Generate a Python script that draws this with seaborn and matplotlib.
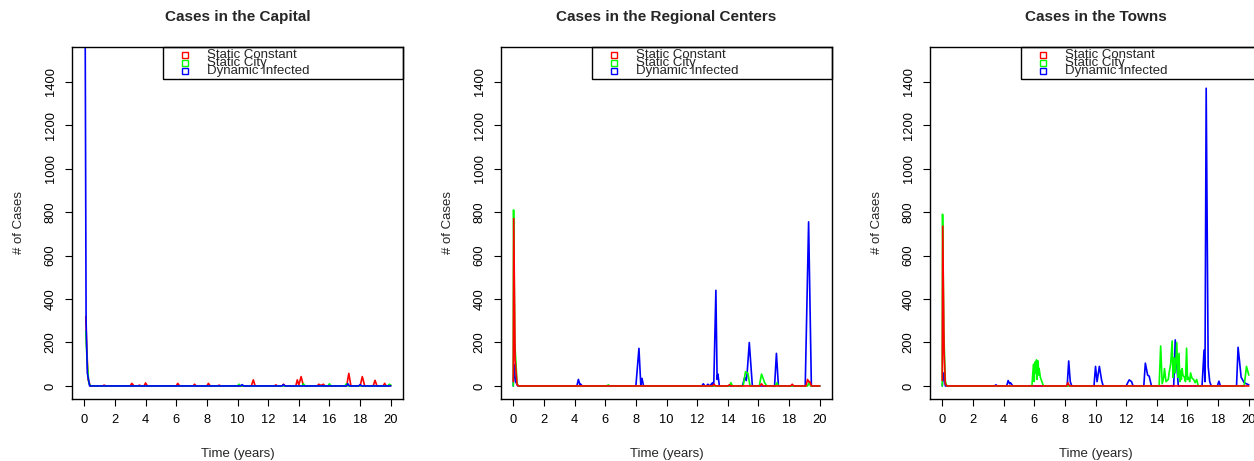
import matplotlib
matplotlib.use("Agg")
import matplotlib.pyplot as plt
import pandas as pd
import seaborn as sns
from matplotlib.patches import Rectangle

# Capital
cap_red_t = [0.1, 0.15, 0.25, 0.4, 1.2, 1.3, 1.4, 3.0, 3.1, 3.25, 3.5, 3.6, 3.7, 3.9, 4.0, 4.12,
             6.0, 6.1, 6.22, 7.1, 7.2, 7.3, 8.0, 8.1, 8.22, 8.7, 8.8, 8.9, 10.9, 11.03, 11.15,
             12.4, 12.5, 12.6, 12.9, 13.0, 13.1, 13.8, 13.9, 14.0, 14.15, 14.3, 15.2, 15.3, 15.45, 15.6, 15.7,
             17.12, 17.26, 17.4, 18.0, 18.14, 18.3, 18.85, 18.97, 19.1, 19.5, 19.6, 19.7, 20.0]
cap_red_v = [320, 200, 30, 0, 0, 4, 0, 0, 12, 0, 0, 4, 0, 0, 14, 0,
             0, 12, 0, 0, 8, 0, 0, 12, 0, 0, 4, 0, 0, 28, 0,
             0, 5, 0, 0, 8, 0, 0, 28, 5, 43, 0, 0, 8, 2, 8, 0,
             0, 58, 0, 0, 43, 0, 0, 26, 0, 0, 12, 0, 2]
cap_green_t = [0.1, 0.18, 0.3, 0.45, 10.0, 10.1, 10.2, 14.2, 14.3, 14.4, 15.9, 16.0, 16.1,
               17.0, 17.1, 17.2, 19.8, 19.9, 20.0]
cap_green_v = [250, 120, 10, 0, 0, 8, 0, 0, 10, 0, 0, 10, 0,
               0, 10, 0, 0, 8, 4]
cap_blue_t = [0.0, 0.12, 0.2, 0.35, 10.2, 10.3, 10.4, 12.9, 13.0, 13.1, 17.1, 17.2, 17.3,
              17.9, 18.0, 18.1, 20.0]
cap_blue_v = [3000, 300, 60, 0, 0, 6, 0, 0, 6, 0, 0, 10, 0,
              0, 6, 0, 0]

# Regional centers
reg_red_t = [0.0, 0.03, 0.12, 0.25, 0.35, 13.0, 13.1, 13.2, 14.0, 14.1, 14.2, 16.1, 16.2, 16.3,
             18.1, 18.2, 18.3, 19.1, 19.2, 19.3, 19.35, 19.45, 20.0]
reg_red_v = [20, 770, 120, 5, 0, 0, 8, 0, 0, 5, 0, 0, 10, 0,
             0, 8, 0, 0, 30, 18, 20, 0, 0]
reg_green_t = [0.0, 0.02, 0.1, 0.25, 0.35, 6.1, 6.2, 6.3, 14.1, 14.2, 14.3, 15.0, 15.15, 15.3, 15.45,
               16.05, 16.2, 16.4, 16.55, 17.1, 17.2, 17.3, 19.2, 19.3, 19.4, 20.0]
reg_green_v = [0, 810, 200, 10, 0, 0, 5, 0, 0, 15, 0, 0, 65, 60, 0,
               0, 55, 15, 0, 0, 15, 0, 0, 15, 0, 0]
reg_blue_t = [0.0, 0.05, 0.15, 0.3, 4.15, 4.25, 4.35, 4.4, 4.5, 8.0, 8.2, 8.32, 8.4, 8.5,
              12.3, 12.4, 12.5, 12.6, 12.7, 12.8, 12.95, 13.0, 13.08, 13.22, 13.3, 13.35, 13.45,
              14.95, 15.1, 15.2, 15.25, 15.4, 15.6, 17.05, 17.17, 17.3, 19.05, 19.27, 19.45, 20.0]
reg_blue_v = [0, 100, 20, 0, 0, 30, 5, 8, 0, 0, 173, 5, 35, 0,
              0, 10, 0, 0, 8, 0, 10, 15, 0, 440, 30, 55, 0,
              0, 40, 25, 50, 200, 0, 0, 150, 0, 0, 755, 0, 0]

# Towns
town_red_t = [0.0, 0.03, 0.12, 0.2, 0.3, 8.1, 8.2, 8.3, 20.0]
town_red_v = [25, 735, 150, 10, 0, 0, 15, 0, 0]
town_green_t = [0.0, 0.02, 0.1, 0.2, 0.3, 5.85, 5.95, 6.0, 6.05, 6.1, 6.15, 6.18, 6.25, 6.3, 6.32, 6.4, 6.5, 6.6,
                14.15, 14.25, 14.35, 14.45, 14.5, 14.6, 14.75, 14.8, 14.9, 15.0, 15.05, 15.1, 15.15, 15.2,
                15.3, 15.35, 15.38, 15.45, 15.5, 15.55, 15.6, 15.65, 15.7, 15.8, 15.87, 15.94, 16.0,
                16.05, 16.15, 16.2, 16.3, 16.4, 16.5, 16.6, 16.7, 19.7, 19.85, 20.0]
town_green_v = [0, 790, 250, 20, 0, 0, 100, 20, 110, 60, 120, 30, 115, 50, 80, 40, 20, 0,
                0, 184, 10, 40, 80, 20, 30, 60, 100, 207, 40, 130, 100, 60,
                200, 90, 40, 150, 20, 70, 30, 80, 50, 40, 20, 174, 30,
                40, 20, 60, 35, 30, 15, 30, 0, 0, 90, 50]
town_blue_t = [0.0, 0.1, 0.2, 3.4, 3.5, 3.6, 4.2, 4.3, 4.4, 4.45, 4.6, 8.15, 8.25, 8.35, 8.45,
               9.9, 10.0, 10.1, 10.25, 10.4, 10.5, 12.0, 12.1, 12.2, 12.35, 12.45,
               13.15, 13.25, 13.4, 13.5, 13.65, 15.1, 15.2, 15.3, 15.4,
               16.95, 17.08, 17.14, 17.22, 17.35, 17.45, 17.55, 17.95, 18.05, 18.15,
               19.2, 19.3, 19.4, 19.5, 19.7, 20.0]
town_blue_v = [0, 60, 0, 0, 5, 0, 0, 25, 10, 15, 0, 0, 115, 20, 0,
               0, 90, 20, 90, 25, 0, 0, 15, 28, 20, 0,
               0, 105, 50, 45, 0, 0, 212, 100, 0,
               0, 165, 20, 1370, 90, 20, 0, 0, 22, 0,
               0, 178, 110, 40, 15, 5]

titles = ["Cases in the Capital", "Cases in the Regional Centers", "Cases in the Towns"]
series_names = ["Static Constant", "Static City", "Dynamic Infected"]
colors = {"Static Constant": "#FF0000", "Static City": "#00FF00", "Dynamic Infected": "#0000FF"}

panels = [
    {"Static Constant": (cap_red_t, cap_red_v), "Static City": (cap_green_t, cap_green_v),
     "Dynamic Infected": (cap_blue_t, cap_blue_v)},
    {"Static Constant": (reg_red_t, reg_red_v), "Static City": (reg_green_t, reg_green_v),
     "Dynamic Infected": (reg_blue_t, reg_blue_v)},
    {"Static Constant": (town_red_t, town_red_v), "Static City": (town_green_t, town_green_v),
     "Dynamic Infected": (town_blue_t, town_blue_v)},
]
draw_orders = [
    ["Static Constant", "Static City", "Dynamic Infected"],
    ["Dynamic Infected", "Static City", "Static Constant"],
    ["Dynamic Infected", "Static City", "Static Constant"],
]

sns.set_style("ticks")
plt.rcParams["font.family"] = ["Liberation Sans", "DejaVu Sans"]

fig = plt.figure(figsize=(12.54, 4.61), dpi=100)
lefts = [72 / 1254, 501 / 1254, 930 / 1254]

for i in range(3):
    ax = fig.add_axes([lefts[i], 0.1345, 0.264, 0.7636])
    for name in draw_orders[i]:
        t, v = panels[i][name]
        df = pd.DataFrame({"t": t, "v": v})
        sns.lineplot(data=df, x="t", y="v", color=colors[name], lw=1.2, ax=ax,
                     estimator=None, sort=False, legend=False)

    ax.set_xlim(-0.8, 20.8)
    ax.set_ylim(-60, 1560)
    ax.set_xticks(range(0, 21, 2))
    ax.set_yticks(range(0, 1401, 200))
    ax.tick_params(direction="out", length=5, width=0.8, labelsize=9.3, pad=6, colors="black")
    for lab in ax.get_yticklabels():
        lab.set_rotation(90)
        lab.set_va("center")
    for sp in ax.spines.values():
        sp.set_linewidth(1.0)
        sp.set_color("black")

    ax.set_xlabel("Time (years)", fontsize=9.5)
    ax.set_ylabel("# of Cases", fontsize=9.5)
    ax.xaxis.set_label_coords(0.5, -0.139)
    ax.yaxis.set_label_coords(-0.142, 0.5)
    ax.set_title(titles[i], fontsize=11, fontweight="bold", pad=18.7)

    # R-style legend box
    ax.add_patch(Rectangle((0.275, 0.909), 0.725, 0.091, transform=ax.transAxes,
                           fill=False, lw=1.0, ec="black", clip_on=False, zorder=5))
    for k, name in enumerate(series_names):
        yy = 0.977 - k * 0.023
        ax.plot([0.341], [yy], marker="s", ms=4.5, mfc="none", mec=colors[name], mew=1.0,
                transform=ax.transAxes, clip_on=False, zorder=6)
        ax.text(0.408, yy, name, transform=ax.transAxes, fontsize=9.5, va="center", ha="left", zorder=6)

fig.savefig("out.png", dpi=100)
